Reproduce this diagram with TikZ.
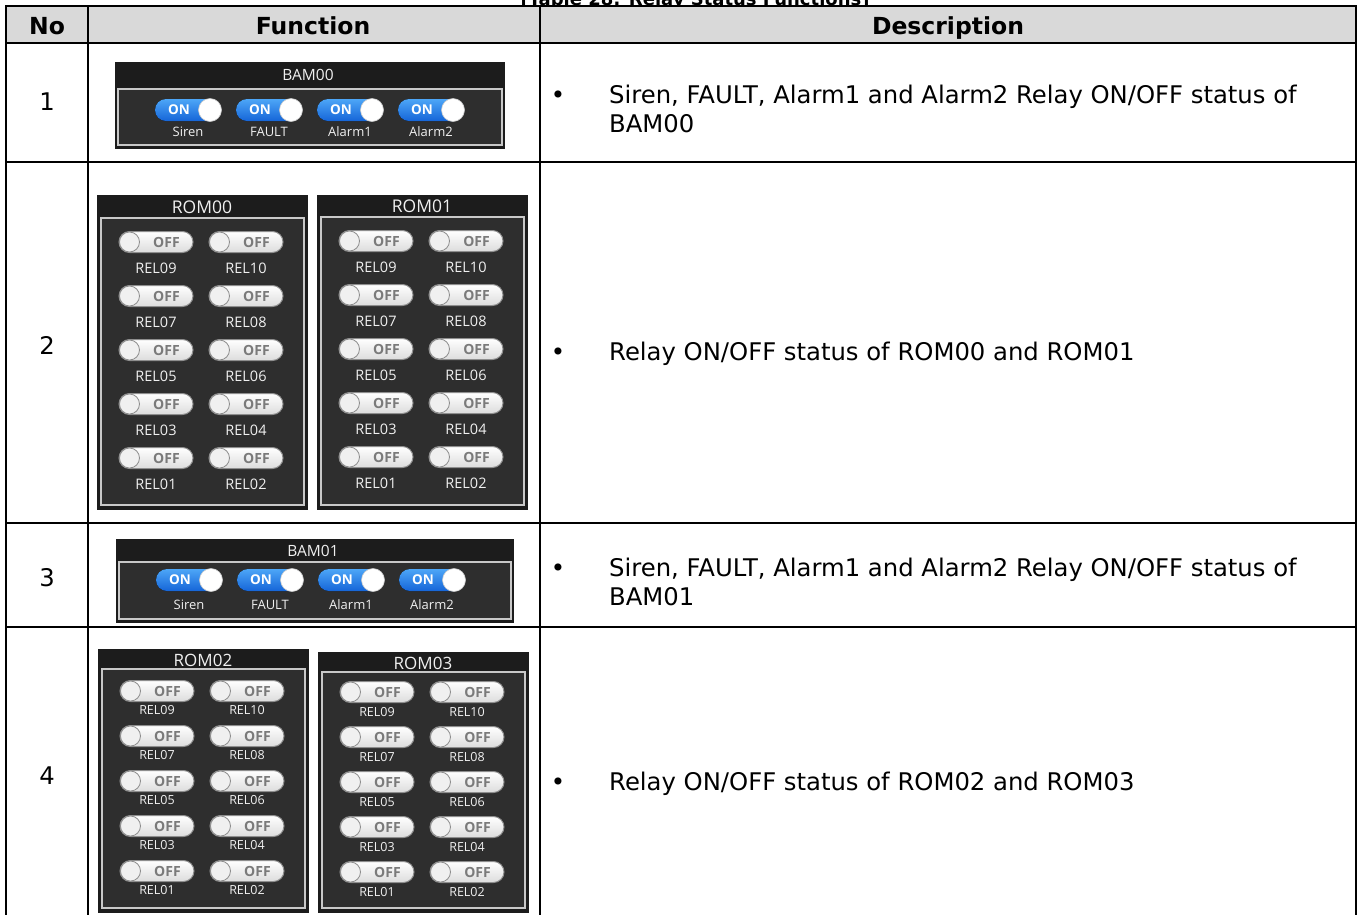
\documentclass[tikz,border=0pt]{standalone}
\usepackage{fontspec}
\setmainfont{DejaVu Sans}
\newfontfamily\hmifont{Open Sans}
\definecolor{headgray}{HTML}{D9D9D9}
\definecolor{barblack}{HTML}{1C1C1C}
\definecolor{bodygray}{HTML}{2E2E2E}
\definecolor{framegray}{HTML}{C8C8C8}
\definecolor{onlight}{HTML}{4DA6F7}
\definecolor{ondark}{HTML}{1565D8}
\definecolor{offedge}{HTML}{8E8E8E}
\definecolor{offfill}{HTML}{DCDCDC}
\definecolor{offtxt}{HTML}{7A7A7A}
\definecolor{hmiwhite}{HTML}{F0F0F0}

\begin{document}
\begin{tikzpicture}[x=1pt,y=-1pt,
  grid/.style={line width=2.6pt,line cap=rect},
  cell/.style={inner sep=0pt,font=\fontsize{24.3}{29}\selectfont},
  headcell/.style={inner sep=0pt,anchor=base,font=\fontsize{23.5}{29}\selectfont\bfseries},
  framebox/.style={draw=framegray,line width=1.8pt,fill=bodygray},
  paneltitle/.style={inner sep=0pt,text=hmiwhite},
  swlabel/.style={inner sep=0pt,text=hmiwhite},
  ontext/.style={inner sep=0pt,text=white,font=\hmifont\bfseries\fontsize{13.5}{13.5}\selectfont},
  offtext/.style={inner sep=0pt,text=offtxt,font=\hmifont\bfseries\fontsize{14}{14}\selectfont},
  onsw/.pic={
    \fill[top color=onlight,bottom color=ondark,rounded corners=11pt] (-33,-11) rectangle (33,11);
    \draw[fill=white,draw=black!20,line width=0.6pt] (22,0) circle (11.5pt);
    \node[ontext] (-t) at (-9,0) {ON};
  },
  offsw/.pic={
    \draw[draw=offedge,line width=1pt,top color=white,bottom color=offfill,rounded corners=10.5pt] (-37,-10.5) rectangle (37,10.5);
    \draw[draw=offedge,line width=0.8pt,fill=black!6] (-26.5,0) circle (10pt);
    \node[offtext] (-t) at (10.5,0) {OFF};
  }]
\useasboundingbox (0,0) rectangle (1360,914);
\clip (0,0) rectangle (1360,914);

% caption, cut by the top edge
\node[anchor=base,inner sep=0pt,font=\fontsize{18}{22}\selectfont\bfseries] (caption) at (695,5) {[Table 28: Relay Status Functions]};

% table grid
\fill[headgray] (6,6) rectangle (1356,43);
\foreach \y in {6,43,162,523,627}
  \draw[grid] (6,\y) -- (1356,\y);
\foreach \x in {6,88,540,1356}
  \draw[grid] (\x,6) -- (\x,930);

\node[headcell] (hno) at (47,34) {No};
\node[headcell] (hfunc) at (313,34) {Function};
\node[headcell] (hdesc) at (948,34) {Description};

\foreach \n/\y in {1/110,2/354,3/586,4/784}
  \node[cell,anchor=base] (no\n) at (47,\y) {\n};

% descriptions
\node[cell,anchor=base] (bul1) at (558,103) {•};
\node[cell,anchor=base west] (desc1a) at (609,103) {Siren, FAULT, Alarm1 and Alarm2 Relay ON/OFF status of};
\node[cell,anchor=base west] (desc1b) at (609,132) {BAM00};
\node[cell,anchor=base] (bul2) at (558,360) {•};
\node[cell,anchor=base west] (desc2) at (609,360) {Relay ON/OFF status of ROM00 and ROM01};
\node[cell,anchor=base] (bul3) at (558,576) {•};
\node[cell,anchor=base west] (desc3a) at (609,576) {Siren, FAULT, Alarm1 and Alarm2 Relay ON/OFF status of};
\node[cell,anchor=base west] (desc3b) at (609,605) {BAM01};
\node[cell,anchor=base] (bul4) at (558,790) {•};
\node[cell,anchor=base west] (desc4) at (609,790) {Relay ON/OFF status of ROM02 and ROM03};

% BAM panels
\foreach \pname/\px/\py/\pw/\ph/\ty/\fy/\sy/\ly in {BAM00/115/62/390/87/13/27/48/70,BAM01/116/539/398/84/12/23/41/66}{
  \fill[barblack] (\px,\py) rectangle ++(\pw,\ph);
  \draw[framebox] (\px+3,\py+\fy) rectangle (\px+\pw-3,\py+\ph-4);
  \node[paneltitle,font=\hmifont\fontsize{15.5}{16}\selectfont] (\pname) at (\px+\pw/2-2,\py+\ty) {\pname};
  \foreach \k/\lbl in {0/Siren,1/FAULT,2/Alarm1,3/Alarm2}{
    \pic (\pname-s\k) at (\px+73+81*\k,\py+\sy) {onsw};
    \node[swlabel,font=\hmifont\fontsize{13}{13}\selectfont] (\pname-l\k) at (\px+73+81*\k,\py+\ly) {\lbl};
  }
}

% ROM panels
\foreach \pname/\px/\py/\ph/\ty/\fy/\sy/\dy/\ly/\fs/\ts in {ROM00/97/195/315/12/23/47/54/26/14.5/17.5,ROM01/317/195/315/11/22/46/54/26/14.5/17.5,ROM02/98/649/264/11/20/42/45/19/12.5/17,ROM03/318/652/261/11/20/40/45/20/12.5/17}{
  \fill[barblack] (\px,\py) rectangle ++(211,\ph);
  \draw[framebox] (\px+4,\py+\fy) rectangle (\px+207,\py+\ph-5);
  \node[paneltitle,font=\hmifont\fontsize{\ts}{\ts}\selectfont] (\pname) at (\px+105,\py+\ty) {\pname};
  \foreach \r/\a/\b in {0/09/10,1/07/08,2/05/06,3/03/04,4/01/02}{
    \pic (\pname-s\a) at (\px+59,\py+\sy+\dy*\r) {offsw};
    \pic (\pname-s\b) at (\px+149,\py+\sy+\dy*\r) {offsw};
    \node[swlabel,font=\hmifont\fontsize{\fs}{\fs}\selectfont] (\pname-l\a) at (\px+59,\py+\sy+\dy*\r+\ly) {REL\a};
    \node[swlabel,font=\hmifont\fontsize{\fs}{\fs}\selectfont] (\pname-l\b) at (\px+149,\py+\sy+\dy*\r+\ly) {REL\b};
  }
}
\end{tikzpicture}
\end{document}
